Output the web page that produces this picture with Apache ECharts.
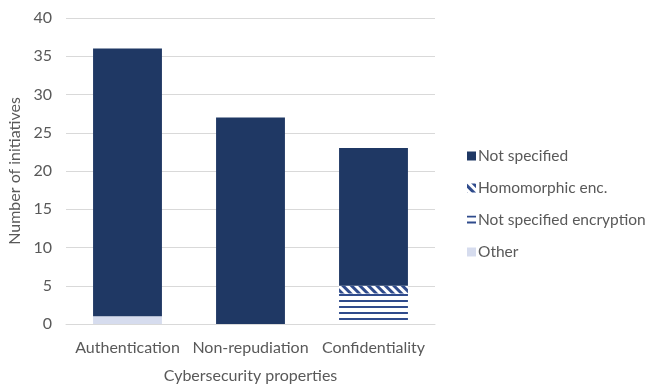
<!DOCTYPE html>
<html>
<head>
<meta charset="utf-8">
<script src="https://cdn.jsdelivr.net/npm/echarts@6/dist/echarts.min.js"></script>
<style>
  html, body { margin: 0; padding: 0; background: #fff; }
  #chart { width: 651px; height: 384px; }
</style>
</head>
<body>
<div id="chart"></div>
<script>
// Initiatives per cybersecurity property, broken down by mechanism
const categories = ['Authentication', 'Non-repudiation', 'Confidentiality'];
const otherValues = [1, 0, 0];
const notSpecifiedEncryption = [0, 0, 4];
const homomorphicEnc = [0, 0, 1];
const notSpecified = [35, 27, 18];
const yTicks = [0, 5, 10, 15, 20, 25, 30, 35, 40];

const FONT = 'Lato, "Open Sans", sans-serif';
const TEXT = '#595959';
const NAVY = '#1f3864';
const STRIPE = '#2f4b8c';

const chart = echarts.init(document.getElementById('chart'), null, { renderer: 'canvas' });

chart.setOption({
  animation: false,
  textStyle: { fontFamily: FONT },
  grid: { left: 66, right: 216, top: 18, bottom: 60, containLabel: false, outerBoundsMode: 'none' },
  legend: {
    orient: 'vertical',
    left: 462,
    top: 143,
    itemWidth: 9,
    itemHeight: 9,
    itemGap: 16,
    icon: 'rect',
    textStyle: { fontFamily: FONT, fontSize: 15.5, color: TEXT, padding: [0, 0, 0, -3] },
    data: ['Not specified', 'Homomorphic enc.', 'Not specified encryption', 'Other']
  },
  xAxis: {
    type: 'category',
    data: categories,
    name: 'Cybersecurity properties',
    nameLocation: 'middle',
    nameGap: 44,
    nameTextStyle: { fontFamily: FONT, fontSize: 16, color: TEXT },
    axisLine: { lineStyle: { color: '#d9d9d9' } },
    axisTick: { show: false },
    axisLabel: { fontFamily: FONT, fontSize: 16, color: TEXT, margin: 16, interval: 0 }
  },
  yAxis: {
    type: 'value',
    min: yTicks[0],
    max: yTicks[yTicks.length - 1],
    interval: 5,
    name: 'Number of initiatives',
    nameLocation: 'middle',
    nameGap: 40,
    nameTextStyle: { fontFamily: FONT, fontSize: 16, color: TEXT },
    axisLine: { show: false },
    axisTick: { show: false },
    axisLabel: { fontFamily: FONT, fontSize: 16, color: TEXT, margin: 14 },
    splitLine: { lineStyle: { color: '#d9d9d9' } }
  },
  series: [
    {
      name: 'Other',
      type: 'bar',
      stack: 'total',
      barWidth: '56%',
      data: otherValues,
      itemStyle: { color: '#d6dcee' }
    },
    {
      name: 'Not specified encryption',
      type: 'bar',
      stack: 'total',
      data: notSpecifiedEncryption,
      itemStyle: {
        color: '#ffffff',
        decal: {
          symbol: 'rect',
          symbolSize: 1,
          color: STRIPE,
          backgroundColor: '#ffffff',
          dashArrayX: [1, 0],
          dashArrayY: [2, 4],
          rotation: 0
        }
      }
    },
    {
      name: 'Homomorphic enc.',
      type: 'bar',
      stack: 'total',
      data: homomorphicEnc,
      itemStyle: {
        color: '#ffffff',
        decal: {
          symbol: 'rect',
          symbolSize: 1,
          color: STRIPE,
          backgroundColor: '#ffffff',
          dashArrayX: [1, 0],
          dashArrayY: [3, 3],
          rotation: Math.PI / 4
        }
      }
    },
    {
      name: 'Not specified',
      type: 'bar',
      stack: 'total',
      data: notSpecified,
      itemStyle: { color: NAVY }
    }
  ]
});
</script>
</body>
</html>
